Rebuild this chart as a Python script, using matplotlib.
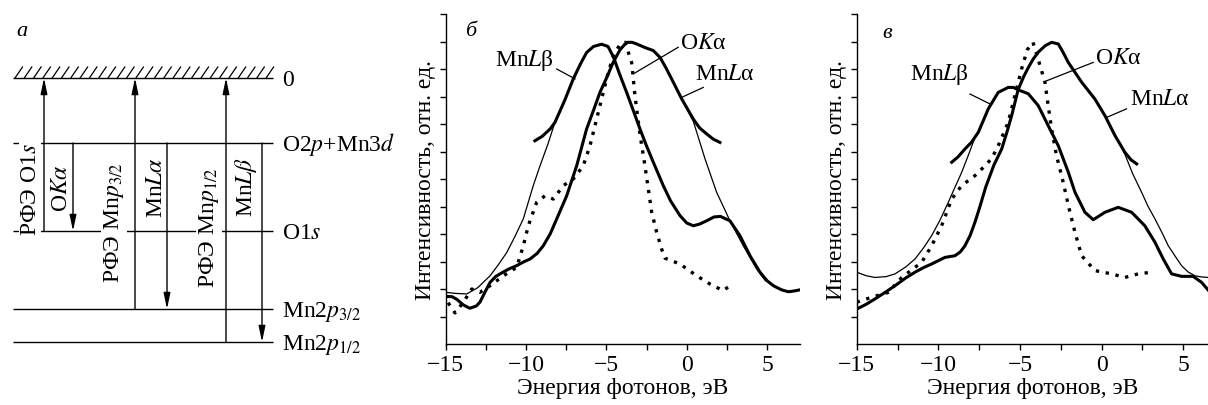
import numpy as np
import matplotlib
matplotlib.use('Agg')
import matplotlib.pyplot as plt

plt.rcParams['font.family'] = ['Liberation Serif', 'DejaVu Serif']
plt.rcParams['mathtext.fontset'] = 'stix'
plt.rcParams['font.size'] = 17
plt.rcParams['axes.unicode_minus'] = True

W, H = 1208, 406

# --- panel a: energy level scheme (depth below the vacuum level, diagram units)
level_names = ['0', 'O2$p$+Mn3$d$', 'O1$s$', 'Mn2$p_{3/2}$', 'Mn2$p_{1/2}$']
level_y = [79, 144, 232, 310, 343]

# photoemission: core level -> vacuum level
xps_from = [2, 3, 4]
xps_labels = ['РФЭ O1$s$', 'РФЭ Mn$p_{3/2}$', 'РФЭ Mn$p_{1/2}$']
# x-ray emission: valence band -> core level
xes_to = [2, 3, 4]
xes_labels = ['O$K\\alpha$', 'Mn$L\\alpha$', 'Mn$L\\beta$']

# --- panel б (photon energy, eV / intensity, rel. units)
b_la_x = [-15.0, -14.6, -14.3, -13.9, -13.5, -13.1, -12.87, -12.5, -12.24, -11.9, -11.62, -11.1,
          -10.58, -10.1, -9.75, -9.3, -8.93, -8.5, -8.09, -7.47, -6.85, -6.23, -5.8, -5.4, -4.97,
          -4.57, -4.15, -3.74, -3.4, -3.11, -2.6, -2.08, -1.66, -1.3, -0.94, -0.31, 0.41, 0.8,
          1.24, 1.65, 2.07]
b_la_y = [1.73, 1.72, 1.62, 1.42, 1.30, 1.38, 1.52, 1.95, 2.24, 2.45, 2.55, 2.72,
          2.85, 3.0, 3.09, 3.3, 3.57, 4.0, 4.55, 5.39, 6.48, 7.82, 8.5, 9.15, 9.7,
          10.25, 10.7, 10.97, 10.97, 10.91, 10.78, 10.67, 10.42, 10.05, 9.64, 8.91, 8.18, 7.86,
          7.64, 7.45, 7.33]
b_lb_x = [-9.45, -9.0, -8.5, -8.2, -7.6, -7.06, -6.6, -6.23, -5.8, -5.3, -4.9, -4.57, -4.2,
          -3.74, -3.3, -2.91, -2.5, -2.08, -1.46, -1.0, -0.42, 0.0, 0.41, 0.8, 1.24, 1.7, 2.1,
          2.69, 3.31, 3.94, 4.56, 5.0, 5.39, 5.9, 6.32, 6.7, 7.05]
b_lb_y = [7.39, 7.55, 7.82, 8.06, 8.85, 9.64, 10.2, 10.6, 10.82, 10.9, 10.82, 10.45, 9.85,
          9.15, 8.45, 7.82, 7.2, 6.61, 5.76, 5.2, 4.67, 4.4, 4.30, 4.36, 4.48, 4.62, 4.64,
          4.48, 3.94, 3.21, 2.61, 2.3, 2.12, 1.97, 1.90, 1.93, 1.97]
b_ok_x = [-14.85, -14.42, -13.9, -13.38, -12.87, -12.24, -11.41, -10.58, -10.17, -9.86, -9.34,
          -8.82, -8.3, -7.68, -7.06, -6.44, -6.02, -5.4, -4.88, -4.57, -4.2, -3.84, -3.43, -3.22,
          -3.01, -2.8, -2.6, -2.39, -2.18, -1.87, -1.56, -1.35, -0.42, 0.62, 1.45, 2.27, 2.69]
b_ok_y = [1.5, 1.13, 1.52, 2.0, 1.88, 2.12, 2.48, 2.79, 3.57, 4.30, 5.15,
          5.39, 5.27, 5.76, 6.0, 6.48, 7.21, 8.67, 9.88, 10.48, 10.85, 10.97, 10.24, 9.03,
          8.06, 7.21, 6.48, 5.64, 4.79, 4.06, 3.45, 3.12, 2.91, 2.48, 2.18, 1.94, 2.12]
b_tail_l_x = [-15.0, -14.4, -13.69, -13.0, -12.24, -11.7, -11.2, -10.7, -10.17, -9.55, -9.13, -8.65, -8.2]
b_tail_l_y = [1.88, 1.84, 1.82, 2.05, 2.48, 2.9, 3.33, 3.9, 4.55, 5.76, 6.48, 7.25, 8.06]
b_tail_r_x = [-0.31, 0.41, 1.14, 1.86, 2.69, 3.52, 4.35, 4.9]
b_tail_r_y = [8.91, 8.1, 6.73, 5.52, 4.48, 3.57, 2.73, 2.3]

# --- panel в
v_la_x = [-15.0, -14.4, -13.88, -13.2, -12.65, -12.0, -11.43, -10.9, -10.41, -9.59, -8.98, -8.65,
          -8.37, -8.05, -7.76, -7.45, -7.1, -6.6, -6.12, -5.8, -5.51, -5.1, -4.75, -4.49, -4.2,
          -3.88, -3.45, -3.06, -2.65, -2.35, -2.04, -1.22, -0.41, 0.21, 0.82, 1.43, 1.8, 2.15]
v_la_y = [1.27, 1.45, 1.64, 1.9, 2.12, 2.4, 2.61, 2.78, 2.91, 3.15, 3.21, 3.35,
          3.57, 3.95, 4.42, 5.0, 5.7, 6.5, 7.09, 7.7, 8.30, 9.27, 9.75, 10.05, 10.35,
          10.61, 10.85, 10.97, 10.91, 10.6, 10.24, 9.52, 8.91, 8.30, 7.58, 6.97, 6.7, 6.55]
v_lb_x = [-9.18, -8.8, -8.37, -7.95, -7.55, -6.94, -6.33, -5.72, -5.4, -5.1, -4.49, -3.88, -3.27,
          -2.65, -2.04, -1.63, -1.02, -0.51, 0.21, 1.02, 1.84, 2.65, 3.27, 3.78, 4.29, 4.9, 5.61,
          6.13, 6.52]
v_lb_y = [6.61, 6.8, 7.09, 7.35, 7.70, 8.55, 9.15, 9.33, 9.33, 9.24, 9.1, 8.67, 7.94,
          7.21, 6.25, 5.52, 4.79, 4.52, 4.79, 4.97, 4.79, 4.30, 3.70, 3.09, 2.55, 2.46, 2.46,
          2.24, 1.97]
v_ok_x = [-15.0, -14.08, -13.06, -12.24, -11.02, -10.41, -9.8, -9.18, -8.57, -7.76, -7.14, -6.73,
          -6.33, -5.72, -5.31, -4.9, -4.55, -4.2, -3.88, -3.47, -3.27, -3.06, -2.76, -2.35, -2.0,
          -1.63, -1.22, -0.41, 0.61, 1.43, 2.24, 3.06]
v_ok_y = [1.52, 1.70, 1.88, 2.42, 2.97, 3.57, 4.30, 5.27, 5.76, 6.12, 6.48, 6.75,
          7.21, 8.06, 9.03, 10.0, 10.7, 10.97, 10.35, 9.52, 8.67, 7.82, 6.85, 5.88, 4.95,
          4.06, 3.21, 2.67, 2.55, 2.42, 2.55, 2.61]
v_tail_l_x = [-15.0, -14.4, -13.88, -13.2, -12.65, -12.0, -11.43, -10.9, -10.41, -9.9, -9.39,
              -8.98, -8.57, -8.17, -7.7]
v_tail_l_y = [2.61, 2.48, 2.42, 2.45, 2.55, 2.8, 3.09, 3.5, 3.94, 4.5, 5.15,
              5.7, 6.24, 6.85, 7.6]
v_tail_r_x = [0.21, 0.82, 1.43, 1.9, 2.45, 2.85, 3.27, 3.7, 4.08, 4.5, 4.9, 5.3, 5.72, 6.1, 6.52]
v_tail_r_y = [8.30, 7.62, 6.9, 6.2, 5.52, 5.0, 4.55, 4.05, 3.58, 3.2, 2.85, 2.62, 2.48, 2.44, 2.42]

note_labels = ['Mn$L$β', 'O$K$α', 'Mn$L$α']
# text anchor and leader line (start, end) per label, in data units
b_notes = [((-11.93, 10.36), (-8.09, 10.0), (-6.95, 9.64)),
           ((-0.42, 10.97), (-0.53, 10.79), (-3.33, 9.82)),
           ((0.51, 9.82), (1.03, 9.33), (-0.31, 8.97))]
v_notes = [((-11.74, 9.82), (-8.06, 9.09), (-6.84, 8.73)),
           ((-0.41, 10.43), (-0.51, 10.24), (-3.37, 9.57)),
           ((1.73, 8.91), (1.53, 8.55), (0.31, 8.24))]


def draw_levels(ax):
    """Energy level scheme with photoemission and emission transitions."""
    x0, x1 = 13, 273
    for name, y in zip(level_names, level_y):
        ax.plot([x0, x1], [y, y], color='k', lw=1.0, solid_capstyle='butt')
        ax.text(x1 + 9, y + 7.5, name, ha='left', va='baseline')
    for hx in np.arange(x0 + 2, x1 - 6, 9.3):
        ax.plot([hx, hx + 7.5], [level_y[0], level_y[0] - 11], color='k', lw=0.9)

    head = dict(arrowstyle='-|>,head_length=0.95,head_width=0.2', mutation_scale=10,
                lw=1.0, color='k', shrinkA=0, shrinkB=0)
    for x, src in zip([44, 135, 226], xps_from):
        ax.annotate('', xy=(x, level_y[0]), xytext=(x, level_y[src]), arrowprops=head)
    for x, dst in zip([73, 167, 262], xes_to):
        ax.annotate('', xy=(x, level_y[dst]), xytext=(x, level_y[1]), arrowprops=head)

    box = dict(facecolor='white', edgecolor='none', pad=0.5)
    for (x, y), lab in zip([(30, 190), (114, 223), (209, 228)], xps_labels):
        ax.text(x, y, lab, rotation=90, ha='center', va='center', bbox=box)
    for (x, y), lab in zip([(61, 188), (156, 188), (246, 187)], xes_labels):
        ax.text(x, y, lab, rotation=90, ha='center', va='center')


def draw_spectra(ax, xmax, la, lb, ok, tail_l, tail_r, notes):
    """Emission spectra MnLα, MnLβ, OKα on a common energy scale."""
    ax.plot(*tail_l, color='k', lw=0.9)
    ax.plot(*tail_r, color='k', lw=0.9)
    ax.plot(*la, color='k', lw=2.2, solid_joinstyle='round')
    ax.plot(*lb, color='k', lw=2.2, solid_joinstyle='round')
    ax.plot(*ok, color='k', lw=2.4, linestyle=(0, (1, 2)))
    for lab, (txt, p0, p1) in zip(note_labels, notes):
        ax.text(txt[0], txt[1], lab, ha='left', va='center')
        ax.plot([p0[0], p1[0]], [p0[1], p1[1]], color='k', lw=0.9)

    ax.set_xlim(-15, xmax)
    ax.set_ylim(0, 12)
    ax.set_xticks([-15, -10, -5, 0, 5])
    ax.set_xticks(np.arange(-12.5, xmax, 5), minor=True)
    ax.set_yticks(range(1, 13))
    ax.set_yticklabels([])
    ax.tick_params(axis='x', which='both', direction='out', length=4, width=1, pad=3)
    ax.tick_params(axis='y', direction='out', length=4.5, width=1)
    for side in ['top', 'right']:
        ax.spines[side].set_visible(False)
    for side in ['left', 'bottom']:
        ax.spines[side].set_linewidth(1.0)
    ax.set_xlabel('Энергия фотонов, эВ', labelpad=2)
    ax.set_ylabel('Интенсивность, отн. ед.', labelpad=-1)


fig = plt.figure(figsize=(W / 100, H / 100), dpi=100)

ax_a = fig.add_axes([0, 0, 400 / W, 1])
ax_a.set_xlim(0, 400)
ax_a.set_ylim(H, 0)
ax_a.axis('off')
draw_levels(ax_a)

ax_b = fig.add_axes([445.7 / W, 1 - 345 / H, (800 - 445.7) / W, 330 / H])
draw_spectra(ax_b, 7.05, (b_la_x, b_la_y), (b_lb_x, b_lb_y), (b_ok_x, b_ok_y),
             (b_tail_l_x, b_tail_l_y), (b_tail_r_x, b_tail_r_y), b_notes)

ax_v = fig.add_axes([856.7 / W, 1 - 345 / H, (W - 856.7) / W, 330 / H])
draw_spectra(ax_v, 6.52, (v_la_x, v_la_y), (v_lb_x, v_lb_y), (v_ok_x, v_ok_y),
             (v_tail_l_x, v_tail_l_y), (v_tail_r_x, v_tail_r_y), v_notes)

for x, y, letter in [(22, 32, 'а'), (471, 32, 'б'), (887, 33, 'в')]:
    fig.text(x / W, 1 - y / H, letter, style='italic', ha='center', va='center', fontsize=16)

fig.savefig('out.png', dpi=100)
